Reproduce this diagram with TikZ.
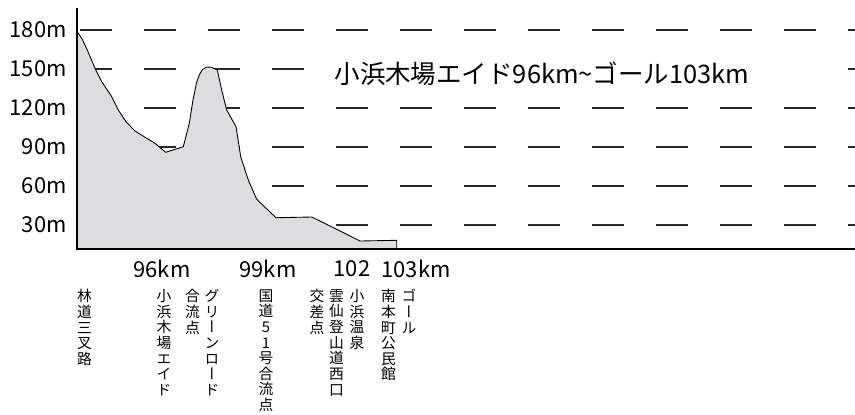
\documentclass[tikz,border=0pt]{standalone}
\usepackage{fontspec}
\setmainfont{Noto Sans CJK JP}
\newfontfamily\tatefont[RawFeature={+vert}]{Noto Sans CJK JP}
\usetikzlibrary{positioning}
\definecolor{ridgegray}{RGB}{220,221,223}
\definecolor{gridgray}{RGB}{40,40,40}

\begin{document}
\begin{tikzpicture}[x=0.02cm, y=-0.02cm,
    griddash/.style={gridgray, line width=0.6pt},
    profile/.style={fill=ridgegray, draw=black, line width=0.5pt, line join=round},
    axisline/.style={black, line width=1.3pt},
    hlabel/.style={font=\fontsize{12.5}{14}\selectfont, inner sep=0pt},
    tate/.style={anchor=north, align=center, inner sep=0pt, font=\tatefont\fontsize{8.4}{8.9}\selectfont}]

    \useasboundingbox (0,0) rectangle (855,414);

    % horizontal guide dashes (left open behind the title)
    \foreach \yy in {30,69,108,147,186,225}
        \foreach \xx in {80,144,...,848} {
            \pgfmathtruncatemacro\skipdash{and(\yy==69, and(\xx>300, \xx<840))}
            \ifnum\skipdash=0 \draw[griddash] (\xx,\yy) -- ++(32,0); \fi
        }

    % elevation profile
    \draw[profile] (77,249) -- (77.3,31.7) -- (81.7,38.3) -- (87.3,50) -- (95,68.3)
        -- (101.7,81.7) -- (111.7,96.7) -- (118.3,110) -- (126,121.7) -- (135,131)
        -- (146.7,138.3) -- (155,143.3) -- (165.7,152.3) -- (183.3,146.7) -- (189.3,123.3)
        -- (193,100) -- (196.7,82) -- (199.5,74.5) -- (202.5,69.5) -- (206.7,67)
        -- (211.7,67.3) -- (217.3,70)
        -- (221.7,90) -- (226.7,110) -- (236,126.7) -- (240.7,156.7) -- (248.3,180)
        -- (256.7,199.3) -- (276,217.7) -- (311.7,217) -- (336.7,229.3) -- (360,241)
        -- (396.7,240.3) -- (396.7,249) -- cycle;

    % axes
    \coordinate (ytop) at (77,8);
    \coordinate (origin) at (77,249);
    \coordinate (xend) at (855,249);
    \draw[axisline] (ytop) -- (origin) -- (xend);

    % height labels
    \foreach \hh/\yy in {180/30,150/69,120/108,90/147,60/186,30/225}
        \node[hlabel, anchor=east] (h\hh) at (67,\yy) {\hh m};

    % title
    \node[font=\fontsize{14.5}{16}\selectfont, inner sep=0pt] (title) at (542,74)
        {小浜木場エイド96km\char"7E ゴール103km};

    % distance labels
    \node[hlabel] (km96) at (162,269) {96km};
    \node[hlabel] (km99) at (268,269) {99km};
    \node[hlabel] (km102) at (352,269) {102};
    \node[hlabel] (km103) at (416,269) {103km};

    % point names
    \node[tate] (rindou) at (84.5,289) {林\\道\\三\\叉\\路};
    \node[tate] (kiba) at (164,289) {小\\浜\\木\\場\\エ\\イ\\ド};
    \node[tate] (gouryu) at (192.5,289) {合\\流\\点};
    \node[tate] (green) at (212,289) {グ\\リ\\ー\\ン\\ロ\\ー\\ド};
    \node[tate] (kokudou) at (266,289) {国\\道\\5\\1\\号\\合\\流\\点};
    \node[tate] (kousa) at (317,289) {交\\差\\点};
    \node[tate] (unzen) at (336.5,289) {雲\\仙\\登\\山\\道\\西\\口};
    \node[tate] (onsen) at (357,289) {小\\浜\\温\\泉};
    \node[tate] (minami) at (388.5,289) {南\\本\\町\\公\\民\\館};
    \node[tate] (goal) at (409,289) {ゴ\\ー\\ル};
\end{tikzpicture}
\end{document}
